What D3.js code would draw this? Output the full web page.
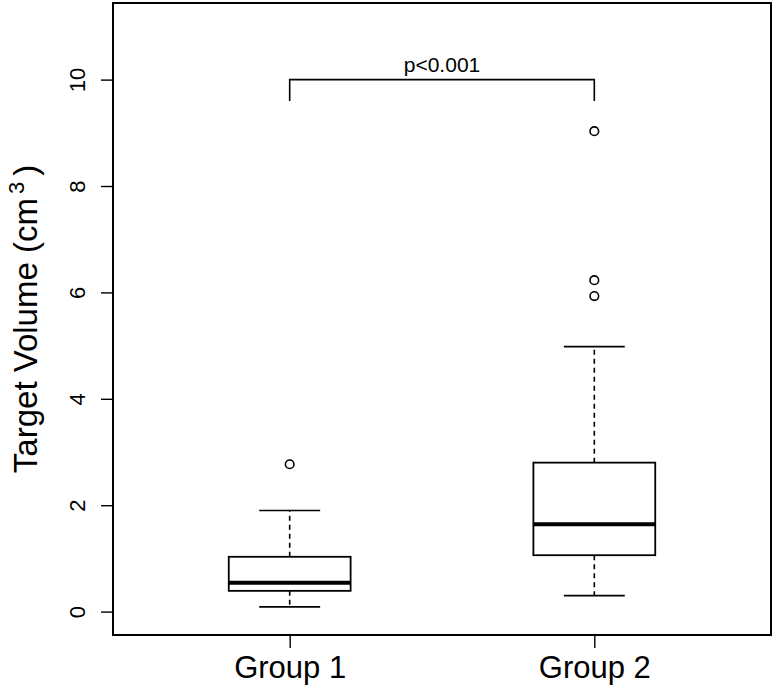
<!DOCTYPE html>
<html lang="en">
<head>
    <meta charset="UTF-8">
    <title>Target Volume by Group</title>
    <script src="https://d3js.org/d3.v7.min.js"></script>
    <style>
        body {
            margin: 0;
            background: #fff;
            font-family: "Liberation Sans", Arial, sans-serif;
        }
        svg {
            display: block;
        }
    </style>
</head>
<body>
    <div id="chart"></div>

    <script>
        // Box plot summary
        const groups = ["Group 1", "Group 2"];
        const lowerWhisker = [0.09, 0.30];
        const q1 = [0.39, 1.06];
        const medians = [0.54, 1.64];
        const q3 = [1.03, 2.80];
        const upperWhisker = [1.90, 4.98];
        const outliers = [[2.77], [5.93, 6.23, 9.03]];
        const yTicks = [0, 2, 4, 6, 8, 10];
        const bracketTop = 10;
        const bracketBottom = 9.6;
        const pLabel = "p<0.001";

        const width = 774;
        const height = 689;
        const plot = { left: 113, right: 771, top: 3, bottom: 635 };

        const svg = d3.select("#chart")
            .append("svg")
            .attr("width", width)
            .attr("height", height);

        // Scales (R style: 4% padding around the limits)
        const x = d3.scaleLinear().domain([0.42, 2.58]).range([plot.left, plot.right]);
        const y = d3.scaleLinear().domain([-0.44, 11.44]).range([plot.bottom, plot.top]);

        const boxHalf = 0.2;
        const capHalf = 0.1;

        const data = groups.map((g, i) => ({
            name: g,
            pos: i + 1,
            lo: lowerWhisker[i],
            q1: q1[i],
            med: medians[i],
            q3: q3[i],
            hi: upperWhisker[i],
            out: outliers[i]
        }));

        const box = svg.selectAll(".box")
            .data(data)
            .enter()
            .append("g")
            .attr("class", "box");

        // dashed whiskers
        box.append("line")
            .attr("x1", d => x(d.pos)).attr("x2", d => x(d.pos))
            .attr("y1", d => y(d.q3)).attr("y2", d => y(d.hi))
            .attr("stroke", "#000").attr("stroke-width", 1.6)
            .attr("stroke-dasharray", "5,4");
        box.append("line")
            .attr("x1", d => x(d.pos)).attr("x2", d => x(d.pos))
            .attr("y1", d => y(d.q1)).attr("y2", d => y(d.lo))
            .attr("stroke", "#000").attr("stroke-width", 1.6)
            .attr("stroke-dasharray", "5,4");

        // whisker caps
        box.append("line")
            .attr("x1", d => x(d.pos - capHalf)).attr("x2", d => x(d.pos + capHalf))
            .attr("y1", d => y(d.hi)).attr("y2", d => y(d.hi))
            .attr("stroke", "#000").attr("stroke-width", 1.7);
        box.append("line")
            .attr("x1", d => x(d.pos - capHalf)).attr("x2", d => x(d.pos + capHalf))
            .attr("y1", d => y(d.lo)).attr("y2", d => y(d.lo))
            .attr("stroke", "#000").attr("stroke-width", 1.7);

        // box
        box.append("rect")
            .attr("x", d => x(d.pos - boxHalf))
            .attr("width", d => x(d.pos + boxHalf) - x(d.pos - boxHalf))
            .attr("y", d => y(d.q3))
            .attr("height", d => y(d.q1) - y(d.q3))
            .attr("fill", "#fff")
            .attr("stroke", "#000")
            .attr("stroke-width", 1.8);

        // median
        box.append("line")
            .attr("x1", d => x(d.pos - boxHalf)).attr("x2", d => x(d.pos + boxHalf))
            .attr("y1", d => y(d.med)).attr("y2", d => y(d.med))
            .attr("stroke", "#000").attr("stroke-width", 4);

        // outliers
        box.selectAll(".outlier")
            .data(d => d.out.map(v => ({ pos: d.pos, v: v })))
            .enter()
            .append("circle")
            .attr("class", "outlier")
            .attr("cx", d => x(d.pos))
            .attr("cy", d => y(d.v))
            .attr("r", 4.3)
            .attr("fill", "none")
            .attr("stroke", "#000")
            .attr("stroke-width", 1.6);

        // significance bracket
        const bracket = d3.path();
        bracket.moveTo(x(1), y(bracketBottom));
        bracket.lineTo(x(1), y(bracketTop));
        bracket.lineTo(x(2), y(bracketTop));
        bracket.lineTo(x(2), y(bracketBottom));
        svg.append("path")
            .attr("d", bracket.toString())
            .attr("fill", "none")
            .attr("stroke", "#000")
            .attr("stroke-width", 1.6);
        svg.append("text")
            .attr("x", x(1.5))
            .attr("y", y(bracketTop) - 8)
            .attr("text-anchor", "middle")
            .attr("font-size", 21)
            .text(pLabel);

        // frame
        svg.append("rect")
            .attr("x", plot.left)
            .attr("y", plot.top)
            .attr("width", plot.right - plot.left)
            .attr("height", plot.bottom - plot.top)
            .attr("fill", "none")
            .attr("stroke", "#000")
            .attr("stroke-width", 2);

        // y axis, labels turned parallel to the axis like R
        const yAxis = svg.append("g")
            .attr("transform", `translate(${plot.left},0)`)
            .call(d3.axisLeft(y).tickValues(yTicks).tickSize(12).tickSizeOuter(0));
        yAxis.select(".domain").remove();
        yAxis.selectAll("line").attr("stroke", "#000").attr("stroke-width", 1.4);
        yAxis.selectAll("text")
            .attr("transform", "rotate(-90)")
            .attr("x", 0)
            .attr("y", -28)
            .attr("dy", 0)
            .attr("text-anchor", "middle")
            .attr("font-family", "Liberation Sans, Arial, sans-serif")
            .attr("font-size", 22)
            .attr("fill", "#000");

        // x axis
        const xAxis = svg.append("g")
            .attr("transform", `translate(0,${plot.bottom})`)
            .call(d3.axisBottom(x).tickValues([1, 2]).tickFormat(d => groups[d - 1]).tickSize(13).tickSizeOuter(0));
        xAxis.select(".domain").remove();
        xAxis.selectAll("line").attr("stroke", "#000").attr("stroke-width", 1.4);
        xAxis.selectAll("text")
            .attr("y", 43)
            .attr("dy", 0)
            .attr("font-family", "Liberation Sans, Arial, sans-serif")
            .attr("font-size", 31)
            .attr("fill", "#000");

        // y axis title with superscript
        const title = svg.append("text")
            .attr("transform", `translate(37,${(plot.top + plot.bottom) / 2}) rotate(-90)`)
            .attr("text-anchor", "middle")
            .attr("font-size", 33);
        title.append("tspan").text("Target Volume (cm");
        title.append("tspan").attr("font-size", 22).attr("dx", 4).attr("dy", -13).text("3");
        title.append("tspan").attr("dx", 6).attr("dy", 13).text(")");
    </script>
</body>
</html>
